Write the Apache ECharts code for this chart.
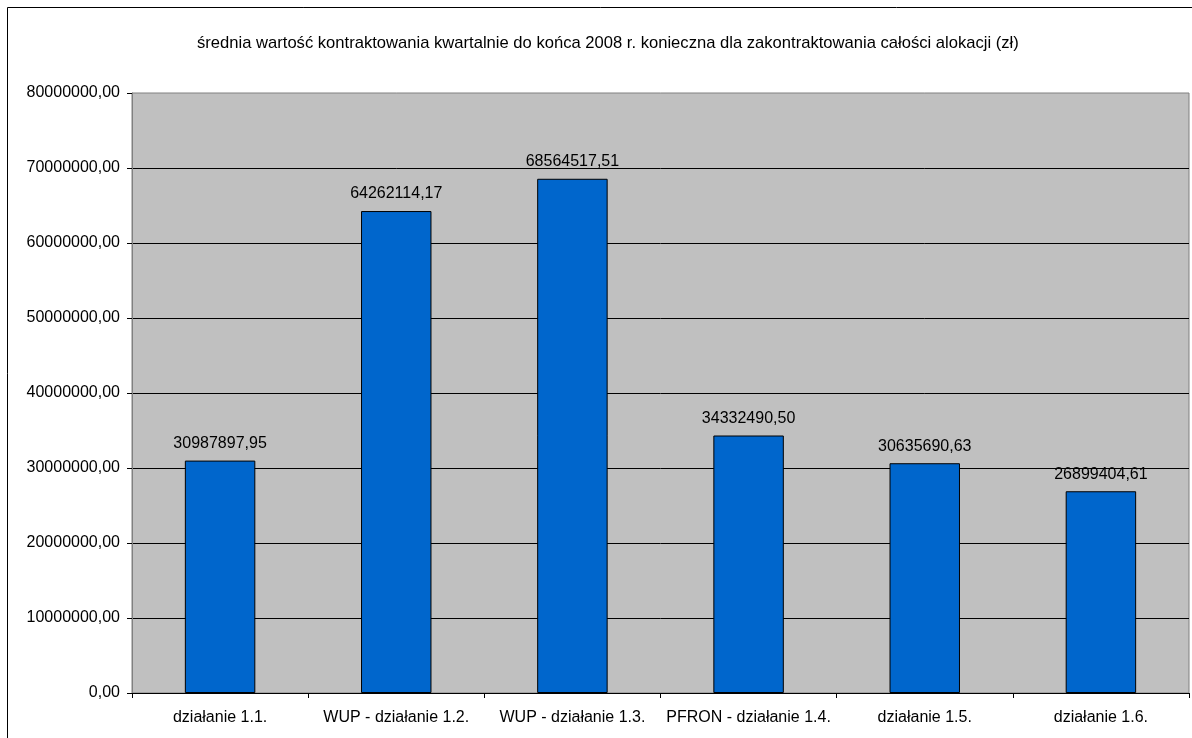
<!DOCTYPE html>
<html>
<head>
<meta charset="utf-8">
<script src="https://cdn.jsdelivr.net/npm/echarts@6/dist/echarts.min.js"></script>
<style>
  html, body { margin: 0; padding: 0; background: #fff; }
  #chart { width: 1192px; height: 738px; }
</style>
</head>
<body>
<div id="chart"></div>
<script>
var categories = ["działanie 1.1.", "WUP - działanie 1.2.", "WUP - działanie 1.3.", "PFRON - działanie 1.4.", "działanie 1.5.", "działanie 1.6."];
var values = [30987897.95, 64262114.17, 68564517.51, 34332490.50, 30635690.63, 26899404.61];
var titleText = "średnia wartość kontraktowania kwartalnie do końca 2008 r. konieczna dla zakontraktowania całości alokacji (zł)";

function fmt(v) {
    return v.toFixed(2).replace(".", ",");
}

var chart = echarts.init(document.getElementById("chart"));
var font = "Liberation Sans, Arial, sans-serif";

chart.setOption({
    animation: false,
    backgroundColor: "#fff",
    textStyle: { fontFamily: font },
    title: {
        text: titleText,
        left: 192,
        top: 30,
        textStyle: { fontFamily: font, fontSize: 16.6, fontWeight: "normal", color: "#000" }
    },
    graphic: [{
        type: "rect",
        shape: { x: 7.5, y: 7.5, width: 1250, height: 800 },
        style: { fill: "none", stroke: "#000", lineWidth: 1 },
        z: 0, silent: true
    }],
    grid: {
        left: 132, top: 93, right: 3, bottom: 45,
        show: true,
        backgroundColor: "#C0C0C0",
        borderColor: "#808080",
        borderWidth: 1
    },
    xAxis: {
        type: "category",
        data: categories,
        axisLine: { lineStyle: { color: "#000", width: 1 } },
        axisTick: { show: true, length: 5, lineStyle: { color: "#000" } },
        axisLabel: { color: "#000", fontSize: 16, margin: 17, fontFamily: font, interval: 0 }
    },
    yAxis: {
        type: "value",
        min: 0, max: 80000000, interval: 10000000,
        axisLine: { show: true, lineStyle: { color: "#808080", width: 1 } },
        axisTick: { show: true, length: 5, lineStyle: { color: "#000" } },
        splitLine: { show: true, showMaxLine: false, lineStyle: { color: "#000", width: 1 } },
        axisLabel: { color: "#000", fontSize: 16, margin: 12, fontFamily: font, formatter: function (v) { return fmt(v); } }
    },
    series: [{
        type: "bar",
        data: values,
        barWidth: "40%",
        itemStyle: { color: "#0066CC", borderColor: "#000", borderWidth: 1 },
        label: {
            show: true, position: "top", distance: 9,
            color: "#000", fontSize: 16, fontFamily: font,
            formatter: function (p) { return fmt(p.value); }
        }
    }]
});
</script>
</body>
</html>
